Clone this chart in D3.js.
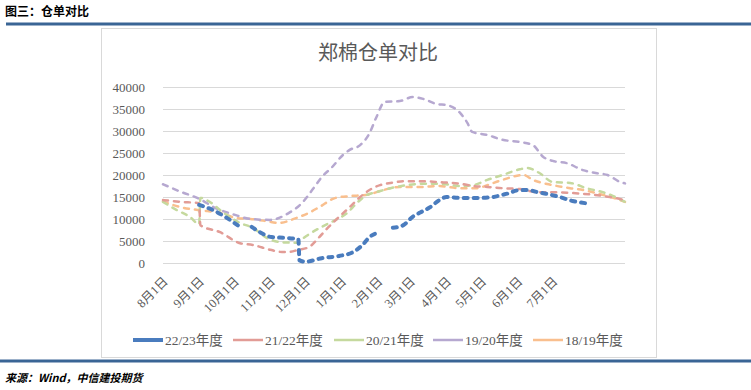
<!DOCTYPE html>
<html>
<head>
<meta charset="utf-8">
<script src="https://cdn.jsdelivr.net/npm/d3@7"></script>
<style>
  body { margin: 0; background: #fff; }
  svg text { font-family: "Liberation Serif", "Noto Sans CJK SC", serif; }
</style>
</head>
<body>
<div id="chart"></div>
<script>
/* SETUP */
var width = 751;
var height = 390;

// every season is drawn on one shared Aug -> Aug calendar (2022/23 dates)
// null value = gap in the line
var s2223 = [
  ["2022-09-01", 13200], ["2022-09-13", 12000], ["2022-09-25", 10200], ["2022-10-06", 8200],
  ["2022-10-10", null],
  ["2022-10-16", 8200], ["2022-10-23", 7000], ["2022-11-02", 5900], ["2022-11-14", 5700],
  ["2022-11-25", 5400], ["2022-11-26", 600], ["2022-12-01", 300], ["2022-12-15", 1100],
  ["2022-12-30", 1600], ["2023-01-11", 2500], ["2023-01-19", 4100], ["2023-01-25", 5900],
  ["2023-02-03", 7000],
  ["2023-02-08", null],
  ["2023-02-14", 8000], ["2023-02-23", 8600], ["2023-03-03", 10500], ["2023-03-09", 11400],
  ["2023-03-18", 12700], ["2023-03-26", 14300], ["2023-04-01", 15000], ["2023-04-13", 14800],
  ["2023-04-30", 14800], ["2023-05-11", 15000], ["2023-05-19", 15500], ["2023-05-25", 15900],
  ["2023-05-31", 16500], ["2023-06-12", 16600], ["2023-06-14", 16400], ["2023-06-26", 15700],
  ["2023-07-07", 15000], ["2023-07-18", 14100], ["2023-07-29", 13600]
];
var s2122 = [
  ["2022-08-01", 14300], ["2022-08-16", 13900], ["2022-09-01", 13600], ["2022-09-02", 8600],
  ["2022-09-19", 7000], ["2022-10-06", 4500], ["2022-10-17", 4100], ["2022-11-01", 3000],
  ["2022-11-11", 2500], ["2022-11-17", 2500], ["2022-11-25", 3000], ["2022-12-04", 3600],
  ["2022-12-13", 5900], ["2022-12-21", 8200], ["2022-12-30", 10500], ["2023-01-08", 12700],
  ["2023-01-17", 15000], ["2023-01-25", 16600], ["2023-02-03", 17700], ["2023-02-12", 18200],
  ["2023-02-26", 18600], ["2023-03-12", 18600], ["2023-03-24", 18400], ["2023-04-13", 18000],
  ["2023-04-24", 17500], ["2023-05-06", 17300], ["2023-05-19", 17000], ["2023-06-03", 16800],
  ["2023-06-18", 16100], ["2023-07-01", 16100], ["2023-07-18", 15900], ["2023-08-05", 15500],
  ["2023-08-19", 15000], ["2023-09-01", 14300]
];
var s2021 = [
  ["2022-08-01", 13900], ["2022-08-13", 12000], ["2022-08-24", 10500], ["2022-09-01", 8800],
  ["2022-09-02", 14800], ["2022-09-10", 13900], ["2022-09-21", 11600], ["2022-10-06", 9100],
  ["2022-10-17", 8000], ["2022-10-29", 5700], ["2022-11-11", 4700], ["2022-11-24", 4600],
  ["2022-11-27", 5200], ["2022-12-04", 6500], ["2022-12-15", 8200], ["2022-12-27", 9800],
  ["2023-01-06", 11400], ["2023-01-14", 13600], ["2023-01-23", 15500], ["2023-01-31", 16100],
  ["2023-02-12", 17000], ["2023-02-26", 17700], ["2023-03-12", 18000], ["2023-03-26", 18000],
  ["2023-04-13", 17500], ["2023-04-24", 17700], ["2023-05-06", 18900], ["2023-05-19", 20000],
  ["2023-06-03", 21300], ["2023-06-09", 21600], ["2023-06-20", 20400], ["2023-07-01", 18400],
  ["2023-07-16", 18200], ["2023-07-30", 17000], ["2023-08-13", 16100], ["2023-08-22", 15200],
  ["2023-09-01", 13900]
];
var s1920 = [
  ["2022-08-01", 17900], ["2022-08-16", 16200], ["2022-09-01", 14600], ["2022-09-15", 12500],
  ["2022-10-01", 11000], ["2022-10-15", 10000], ["2022-11-01", 9800], ["2022-11-17", 11400],
  ["2022-11-28", 13600], ["2022-12-08", 17000], ["2022-12-15", 19500], ["2022-12-24", 21800],
  ["2023-01-02", 24500], ["2023-01-08", 25700], ["2023-01-17", 26800], ["2023-01-25", 29500],
  ["2023-01-31", 33200], ["2023-02-07", 36600], ["2023-02-20", 36800], ["2023-03-03", 37700],
  ["2023-03-12", 37300], ["2023-03-24", 36100], ["2023-04-01", 35900], ["2023-04-13", 34000],
  ["2023-04-19", 31800], ["2023-04-23", 29800], ["2023-05-06", 29100], ["2023-05-19", 28000],
  ["2023-06-03", 27500], ["2023-06-14", 26800], ["2023-06-23", 24100], ["2023-07-01", 23200],
  ["2023-07-13", 22700], ["2023-07-27", 21100], ["2023-08-08", 20400], ["2023-08-17", 20000],
  ["2023-08-28", 18400], ["2023-09-01", 18100]
];
var s1819 = [
  ["2022-08-01", 14000], ["2022-08-16", 12700], ["2022-09-01", 12000], ["2022-09-19", 11400],
  ["2022-10-03", 10200], ["2022-10-15", 10000], ["2022-10-29", 9500], ["2022-11-08", 9100],
  ["2022-11-23", 10200], ["2022-12-04", 11400], ["2022-12-13", 12700], ["2022-12-27", 14800],
  ["2023-01-08", 15200], ["2023-01-23", 15500], ["2023-02-06", 16600], ["2023-02-20", 17300],
  ["2023-03-12", 17300], ["2023-03-24", 17500], ["2023-04-13", 17000], ["2023-04-27", 17000],
  ["2023-05-06", 17700], ["2023-05-19", 18900], ["2023-06-06", 20000], ["2023-06-14", 18900],
  ["2023-07-01", 17700], ["2023-07-16", 17000], ["2023-07-27", 16600], ["2023-08-10", 15700],
  ["2023-08-22", 14800], ["2023-09-01", 13900]
];

var seriesNames = ["22/23年度", "21/22年度", "20/21年度", "19/20年度", "18/19年度"];
var seriesData = [s2223, s2122, s2021, s1920, s1819];
var seriesColors = ["#4A7CBE", "#E29C96", "#C5D99E", "#B6A8D0", "#F9BF8E"];
var yTicks = [0, 5000, 10000, 15000, 20000, 25000, 30000, 35000, 40000];
var monthTicks = ["2022-08-01", "2022-09-01", "2022-10-01", "2022-11-01", "2022-12-01", "2023-01-01",
  "2023-02-01", "2023-03-01", "2023-04-01", "2023-05-01", "2023-06-01", "2023-07-01"];

var parseDate = d3.timeParse("%Y-%m-%d");

var svg = d3.select("#chart")
  .append("svg")
  .attr("width", width)
  .attr("height", height);

svg.append("rect").attr("width", width).attr("height", height).attr("fill", "#fff");

// page header + footer
svg.append("text")
  .attr("x", 5).attr("y", 16)
  .style("font-family", "'Noto Sans CJK SC'")
  .style("font-weight", "bold")
  .style("font-size", "12px")
  .text("图三：仓单对比");

svg.append("line")
  .attr("x1", 6).attr("x2", width).attr("y1", 24).attr("y2", 24)
  .attr("stroke", "#3A6595").attr("stroke-width", 3);

svg.append("rect")  // chart frame
  .attr("x", 101.5).attr("y", 28.5).attr("width", 555).attr("height", 329)
  .attr("fill", "none").attr("stroke", "#D9D9D9");

svg.append("line")
  .attr("x1", 0).attr("x2", width).attr("y1", 361).attr("y2", 361)
  .attr("stroke", "#3A6595").attr("stroke-width", 3);

svg.append("text")
  .attr("x", 5).attr("y", 382)
  .style("font-family", "'Noto Sans CJK SC'")
  .style("font-weight", "bold")
  .style("font-style", "italic")
  .style("font-size", "11px")
  .text("来源：Wind，中信建投期货");

// chart title
svg.append("text")
  .attr("x", 378).attr("y", 60)
  .attr("text-anchor", "middle")
  .style("font-family", "'Noto Sans CJK SC'")
  .style("font-size", "20px")
  .attr("fill", "#595959")
  .text("郑棉仓单对比");

/* SCALES */
var x = d3.scaleTime()
  .domain([parseDate("2022-08-01"), parseDate("2023-09-01")])
  .range([163, 625]);

var y = d3.scaleLinear()
  .domain([0, 40000])
  .range([263, 87]);

// y gridlines + labels
var yAxis = svg.append("g")
  .attr("transform", "translate(163,0)")
  .call(d3.axisLeft(y)
    .tickValues(yTicks)
    .tickFormat(d3.format("d"))
    .tickSize(-(625 - 163))
    .tickPadding(18));
yAxis.select(".domain").remove();
yAxis.selectAll(".tick line").attr("stroke", "#D9D9D9").attr("stroke-width", 1);
yAxis.selectAll(".tick text")
  .attr("fill", "#595959")
  .style("font-size", "13px");

// x labels, rotated
var xAxis = svg.append("g")
  .attr("transform", "translate(0,263)")
  .call(d3.axisBottom(x)
    .tickValues(monthTicks.map(parseDate))
    .tickFormat(function(d) { return (d.getMonth() + 1) + "月1日"; })
    .tickSize(0));
xAxis.select(".domain").remove();
xAxis.selectAll(".tick text")
  .attr("x", 0).attr("y", 0).attr("dy", "0.35em")
  .attr("transform", "translate(2,16) rotate(-45)")
  .style("text-anchor", "end")
  .style("font-size", "12.5px")
  .attr("fill", "#595959");

/* LINES */
var line = d3.line()
  .defined(function(d) { return d[1] !== null; })
  .x(function(d) { return x(parseDate(d[0])); })
  .y(function(d) { return y(d[1]); })
  .curve(d3.curveMonotoneX);

// draw oldest season first so 22/23 sits on top
for (var i = seriesData.length - 1; i >= 0; i--) {
  svg.append("path")
    .datum(seriesData[i])
    .attr("d", line)
    .attr("fill", "none")
    .attr("stroke", seriesColors[i])
    .attr("stroke-width", i === 0 ? 4 : 2.5)
    .attr("stroke-linecap", "round")
    .attr("stroke-dasharray", i === 0 ? "4,6" : "5,6");
}

/* LEGEND */
var legendX = [133, 233, 334, 433, 533];
var legend = svg.selectAll(".legend")
  .data(seriesNames)
  .enter()
  .append("g")
  .attr("class", "legend")
  .attr("transform", function(d, i) { return "translate(" + legendX[i] + ",340)"; });

legend.append("line")
  .attr("x1", 0).attr("x2", 30).attr("y1", 0).attr("y2", 0)
  .attr("stroke", function(d, i) { return seriesColors[i]; })
  .attr("stroke-width", function(d, i) { return i === 0 ? 4 : 2.5; });

legend.append("text")
  .attr("x", 32).attr("y", 0).attr("dy", "0.35em")
  .style("font-size", "13.5px")
  .attr("fill", "#595959")
  .text(function(d) { return d; });
</script>
</body>
</html>
